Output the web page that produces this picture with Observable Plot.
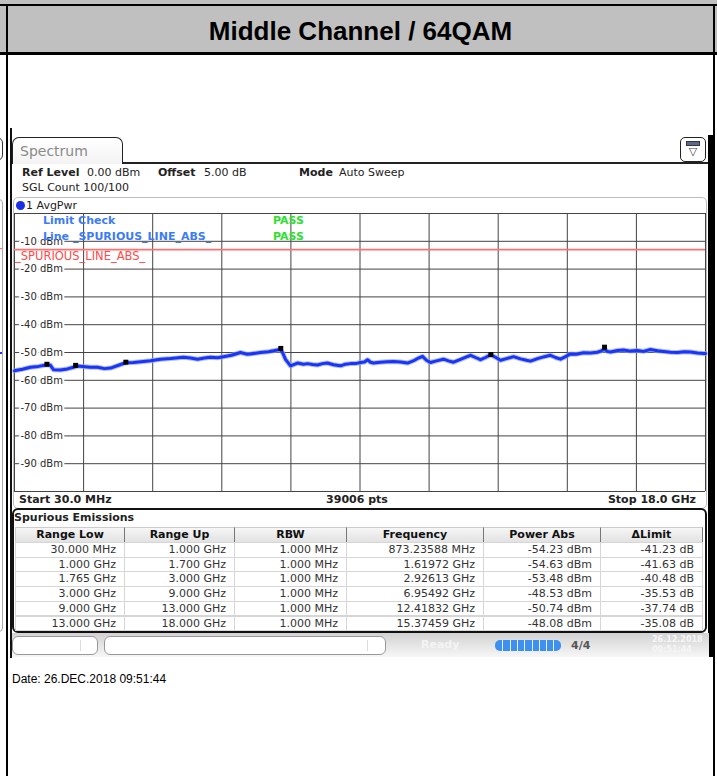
<!DOCTYPE html>
<html><head><meta charset="utf-8">
<script src="https://cdn.jsdelivr.net/npm/d3@7"></script>
<script src="https://cdn.jsdelivr.net/npm/@observablehq/plot@0.6"></script>
<style>
html,body{margin:0;padding:0;background:#fff;}
#page{position:relative;width:717px;height:776px;overflow:hidden;background:#fff;font-family:"DejaVu Sans",sans-serif;color:#222;}
.a{position:absolute;box-sizing:border-box;white-space:nowrap;}
.t11{font-size:11px;line-height:14px;height:14px;}
.b{font-weight:bold;}
</style>
</head><body><div id="page"></div>
<script>
// ---------------- data ----------------
const titleText = "Middle Channel / 64QAM";
const startGHz = 0.03, stopGHz = 18.0;
const refLevelDbm = 0, bottomDbm = -100;
const limitDbm = -13;
const yTickLabels = [-10, -20, -30, -40, -50, -60, -70, -80, -90];
const traceFreqGHz = [0.030,0.056,0.238,0.446,0.654,0.880,0.966,1.044,1.226,1.408,1.564,1.668,1.798,2.006,2.188,2.370,2.527,2.735,2.917,3.125,3.385,3.567,3.827,4.087,4.425,4.607,4.789,4.971,5.127,5.309,5.465,5.673,5.907,6.063,6.167,6.427,6.635,6.765,6.935,7.000,7.078,7.208,7.390,7.546,7.650,7.780,7.910,8.040,8.170,8.326,8.508,8.638,8.768,8.898,9.028,9.132,9.210,9.288,9.366,9.548,9.730,9.886,10.068,10.250,10.432,10.536,10.640,10.744,10.848,11.004,11.186,11.316,11.446,11.628,11.785,11.889,12.019,12.149,12.279,12.409,12.539,12.669,12.825,13.007,13.189,13.345,13.449,13.631,13.813,13.969,14.099,14.229,14.359,14.489,14.645,14.827,15.009,15.191,15.269,15.373,15.451,15.529,15.711,15.867,16.049,16.231,16.387,16.569,16.751,16.907,17.090,17.272,17.454,17.610,17.792,17.948,18.0];
const tracePowerDbm = [-56.6,-56.5,-56.0,-55.3,-55.0,-54.4,-54.6,-56.2,-56.3,-55.9,-55.3,-54.9,-55.0,-55.3,-55.3,-55.8,-55.6,-54.6,-53.7,-53.6,-53.2,-53.0,-52.4,-52.2,-51.7,-52.0,-52.4,-52.0,-51.7,-51.9,-51.5,-51.0,-50.0,-50.6,-50.5,-50.0,-49.7,-49.4,-48.9,-50.0,-52.5,-54.8,-53.8,-54.2,-54.0,-54.3,-54.5,-54.0,-53.8,-54.4,-54.8,-54.2,-54.0,-54.0,-53.6,-53.4,-52.6,-53.5,-53.8,-53.5,-53.3,-53.2,-53.4,-53.8,-52.8,-52.0,-51.4,-52.8,-53.6,-53.0,-52.4,-53.0,-53.5,-52.5,-51.6,-51.0,-51.8,-52.6,-51.8,-50.8,-51.7,-52.8,-52.2,-51.5,-52.3,-52.8,-53.1,-52.2,-51.5,-51.0,-51.8,-52.4,-51.5,-50.5,-50.6,-50.1,-50.2,-49.9,-49.5,-48.9,-49.6,-49.8,-49.3,-49.1,-49.5,-49.3,-49.6,-48.9,-49.4,-49.6,-49.9,-50.0,-49.7,-49.8,-50.2,-50.4,-50.4];
const markerFreqGHz = [0.87323588, 1.61972, 2.92613, 6.95492, 12.41832, 15.37459];
const markerPowerDbm = [-54.23, -54.63, -53.48, -48.53, -50.74, -48.08];
const tableColumns = ["Range Low", "Range Up", "RBW", "Frequency", "Power Abs", "\u0394Limit"];
const rangeLow = ["30.000 MHz", "1.000 GHz", "1.765 GHz", "3.000 GHz", "9.000 GHz", "13.000 GHz"];
const rangeUp = ["1.000 GHz", "1.700 GHz", "3.000 GHz", "9.000 GHz", "13.000 GHz", "18.000 GHz"];
const rbwLabels = ["1.000 MHz", "1.000 MHz", "1.000 MHz", "1.000 MHz", "1.000 MHz", "1.000 MHz"];
const frequencyLabels = ["873.23588 MHz", "1.61972 GHz", "2.92613 GHz", "6.95492 GHz", "12.41832 GHz", "15.37459 GHz"];
const sweepPoints = "39006 pts";
const dateText = "Date: 26.DEC.2018  09:51:44";

// ---------------- helpers ----------------
const page = document.getElementById("page");
function box(css, html) {
  const d = document.createElement("div");
  d.className = "a";
  d.style.cssText = css;
  if (html != null) d.innerHTML = html;
  page.appendChild(d);
  return d;
}

// ---------------- document frame ----------------
box("left:0;top:0;width:717px;height:55px;background:#c0c0c0;");
box("left:0;top:4px;width:717px;height:2px;background:#000;");
box("left:0;top:52px;width:717px;height:3px;background:#000;");
box("left:8px;top:8px;width:705px;height:46px;display:flex;align-items:center;justify-content:center;font-family:'Liberation Sans',Arial,sans-serif;font-weight:bold;font-size:26px;color:#000;", titleText);
// left fragments of neighbour screenshot
box("left:-6px;top:137px;width:9px;height:24px;border:1.5px solid #333;border-radius:0 6px 6px 0;");
box("left:-6px;top:199px;width:9px;height:433px;border:1px solid #aaa;border-radius:0 4px 4px 0;");
box("left:0;top:248px;width:3px;height:1px;background:#f77;");
box("left:0;top:352px;width:2px;height:2px;background:#23f;");

// ---------------- instrument screenshot ----------------
box("left:10px;top:128px;width:1.5px;height:530px;background:#111;");
box("left:708px;top:135px;width:6px;height:522px;background:#000;");
// tab
box("left:12px;top:137px;width:111px;height:27px;border:1.5px solid #222;border-bottom:none;border-radius:7px 7px 0 0;background:linear-gradient(#fff,#f3f3f3);font-size:14px;line-height:26px;color:#8a8a8a;padding-left:7px;", "Spectrum");
box("left:122px;top:162px;width:586px;height:1.5px;background:#222;");
box("left:680px;top:137px;width:26px;height:25px;border:1.5px solid #222;border-radius:5px;background:#fff;");
box("left:686px;top:141px;width:14px;height:5px;background:#5a6a8a;border:1px solid #334;");
box("left:684px;top:145px;width:18px;height:14px;font-size:11px;line-height:14px;text-align:center;color:#445;", "\u25BD");
// header info texts
box("left:22px;top:166px;", "<span class='b'>Ref Level</span>").classList.add("t11");
box("left:87px;top:166px;", "0.00 dBm").classList.add("t11");
box("left:158px;top:166px;", "<span class='b'>Offset</span>").classList.add("t11");
box("left:204px;top:166px;", "5.00 dB").classList.add("t11");
box("left:299px;top:166px;", "<span class='b'>Mode</span>").classList.add("t11");
box("left:339px;top:166px;", "Auto Sweep").classList.add("t11");
box("left:22px;top:181px;", "SGL Count 100/100").classList.add("t11");
// diagram box
box("left:13px;top:197px;width:694px;height:312px;border:1.5px solid #bdbdbd;border-radius:5px;background:#fff;");
box("left:16px;top:201px;width:9px;height:9px;border-radius:50%;background:#1a2ee6;");
box("left:26px;top:199px;", "1 AvgPwr").classList.add("t11");
box("left:19px;top:493px;", "<span class='b'>Start 30.0 MHz</span>").classList.add("t11");
box("left:257px;top:493px;width:200px;text-align:center;", "<span class='b'>" + sweepPoints + "</span>").classList.add("t11");
box("left:495px;top:493px;width:201px;text-align:right;", "<span class='b'>Stop 18.0 GHz</span>").classList.add("t11");

// ---------------- the chart ----------------
const trace = traceFreqGHz.map((f, i) => ({f, p: tracePowerDbm[i]}));
const markers = markerFreqGHz.map((f, i) => ({f, p: markerPowerDbm[i]}));
const xGrid = d3.range(11).map(i => startGHz + i * (stopGHz - startGHz) / 10);
const yGrid = d3.range(refLevelDbm, bottomDbm - 1, -10);

const chart = Plot.plot({
  width: 717, height: 510,
  marginLeft: 14, marginRight: 12, marginTop: 213, marginBottom: 19,
  x: {domain: [startGHz, stopGHz], axis: null},
  y: {domain: [bottomDbm, refLevelDbm], axis: null},
  style: {background: "transparent", overflow: "visible", fontFamily: "DejaVu Sans, sans-serif"},
  marks: [
    Plot.ruleY(yGrid, {stroke: "#444", strokeWidth: 1}),
    Plot.ruleX(xGrid, {stroke: "#444", strokeWidth: 1}),
    Plot.ruleY([limitDbm], {stroke: "#ff7070", strokeWidth: 1.6}),
    Plot.text(yTickLabels, {y: d => d, text: d => `${d} dBm`, frameAnchor: "left", dx: 6, textAnchor: "start", fontSize: 10, fill: "white", stroke: "white", strokeWidth: 4}),
    Plot.text(yTickLabels, {y: d => d, text: d => `${d} dBm`, frameAnchor: "left", dx: 6, textAnchor: "start", fontSize: 10, fill: "#2a2a2a"}),
    Plot.line(trace, {x: "f", y: "p", stroke: "#8ea0ff", strokeWidth: 5, strokeOpacity: 0.7}),
    Plot.line(trace, {x: "f", y: "p", stroke: "#1a36f2", strokeWidth: 3}),
    Plot.dot(markers, {x: "f", y: "p", symbol: "square", r: 2.8, fill: "#000"})
  ]
});
const holder = box("left:0;top:0;width:717px;height:510px;pointer-events:none;");
holder.appendChild(chart);

// limit check overlay texts
box("left:43px;top:214px;color:#3b7cf6;font-weight:bold;", "Limit Check").classList.add("t11");
box("left:273px;top:214px;color:#2ee02e;font-weight:bold;", "PASS").classList.add("t11");
box("left:43px;top:230px;color:#3b7cf6;font-weight:bold;", "Line _SPURIOUS_LINE_ABS_").classList.add("t11");
box("left:273px;top:230px;color:#2ee02e;font-weight:bold;", "PASS").classList.add("t11");
box("left:15px;top:249px;color:#ff4a4a;font-size:11.5px;line-height:14px;", "_SPURIOUS_LINE_ABS_");

// ---------------- spurious emissions table ----------------
box("left:12px;top:508px;width:695px;height:125px;border:2px solid #111;border-radius:6px;background:#fff;");
box("left:14px;top:511px;", "<span class='b'>Spurious Emissions</span>").classList.add("t11");
const colEdges = [15, 125, 235, 347, 484, 601, 703];
const tableTop = 527, headH = 15, rowH = 14.7;
const powerLabels = markerPowerDbm.map(v => `${v.toFixed(2)} dBm`);
const deltaLabels = markerPowerDbm.map(v => `${(v - limitDbm).toFixed(2)} dB`);
const tableCols = [rangeLow, rangeUp, rbwLabels, frequencyLabels, powerLabels, deltaLabels];
tableColumns.forEach((name, i) => {
  const l = colEdges[i], w = colEdges[i + 1] - colEdges[i];
  box(`left:${l}px;top:${tableTop}px;width:${w}px;height:${headH}px;background:linear-gradient(#f6f6f6,#e2e2e2);border-top:1px solid #ccc;border-right:1.5px solid #777;${i === 0 ? "border-left:1px solid #ccc;" : ""}font-weight:bold;font-size:11px;line-height:14px;text-align:center;color:#111;`, name);
  tableCols[i].forEach((v, r) => {
    box(`left:${l}px;top:${tableTop + headH + r * rowH}px;width:${w}px;height:${rowH + 1}px;border:1px solid #d6d6d6;${i === 0 ? "" : "border-left:none;"}font-size:11px;line-height:${rowH}px;text-align:right;padding-right:8px;color:#333;`, v);
  });
});

// ---------------- status bar ----------------
box("left:11.5px;top:633px;width:697px;height:24px;background:linear-gradient(#d2d2d2,#f6f6f6);");
box("left:12px;top:636px;width:86px;height:19px;border:1px solid #999;border-radius:6px;background:#fff;");
box("left:80px;top:640px;width:1px;height:11px;background:#ddd;");
box("left:104px;top:636px;width:282px;height:19px;border:1px solid #999;border-radius:6px;background:#fff;");
box("left:367px;top:640px;width:1px;height:11px;background:#ddd;");
box("left:421px;top:638px;color:#f4f4f4;font-weight:bold;", "Ready").classList.add("t11");
const prog = box("left:495px;top:640px;width:66px;height:11px;border-radius:5px;background:#3d90ee;overflow:hidden;");
for (let i = 1; i < 9; i++) {
  const s = document.createElement("div");
  s.style.cssText = `position:absolute;left:${i * 7.3}px;top:0;width:1px;height:11px;background:#e8f2ff;`;
  prog.appendChild(s);
}
box("left:571px;top:639px;width:22px;height:13px;font-size:11px;line-height:13px;font-weight:bold;color:#555;", "4/4");
box("left:652px;top:635px;font-size:8px;line-height:10px;color:#f6f6f6;font-weight:bold;", "26.12.2018<br>09:51:44");

// ---------------- date line ----------------
box("left:12px;top:672px;font-family:'Liberation Sans',Arial,sans-serif;font-size:12px;line-height:14px;color:#000;", dateText);

// outer cell borders on top
box("left:6px;top:4px;width:2px;height:772px;background:#000;");
box("left:713px;top:4px;width:2px;height:772px;background:#000;");
</script>
</body></html>
